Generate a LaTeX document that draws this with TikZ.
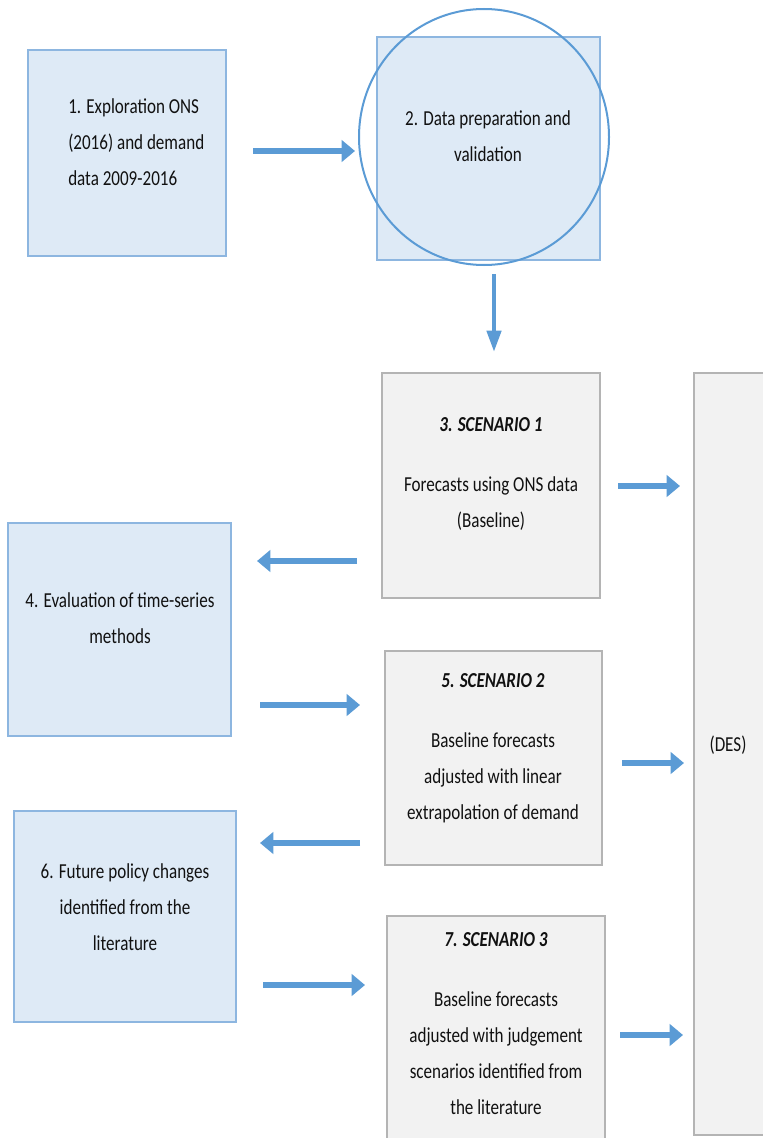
\documentclass[tikz,border=0pt]{standalone}
\usepackage{fontspec}
\setmainfont[FakeStretch=0.8]{Carlito}
\usetikzlibrary{arrows.meta,calc,fit}
\definecolor{boxblue}{HTML}{DEEAF6}
\definecolor{edgeblue}{HTML}{8DB6E0}
\definecolor{arrowblue}{HTML}{5B9BD5}
\definecolor{boxgray}{HTML}{F2F2F2}
\definecolor{edgegray}{HTML}{B4B4B4}
\definecolor{txt}{HTML}{111111}
\begin{document}
\begin{tikzpicture}[x=0.75pt,y=-0.75pt,
  bluebox/.style={draw=edgeblue,fill=boxblue,line width=1.1pt,inner sep=0pt,outer sep=0pt},
  graybox/.style={draw=edgegray,fill=boxgray,line width=1.1pt,inner sep=0pt,outer sep=0pt},
  label/.style={font=\fontsize{16}{27}\selectfont,text=txt,inner sep=0pt,align=center},
  arr/.style={draw=arrowblue,line width=5pt,-{Triangle[length=10pt,width=16pt]}},
  darr/.style={draw=arrowblue,line width=3.3pt,-{Triangle[length=16pt,width=10.5pt]}}]
\useasboundingbox (0,0) rectangle (763,1138);

% process boxes
\node[bluebox,fit={(28,50) (226,256)}] (b1) {};
\node[bluebox,fit={(377,37) (600,260)}] (b2) {};
\node[graybox,fit={(382,373) (600,598)}] (b3) {};
\node[bluebox,fit={(8,523) (231,736)}] (b4) {};
\node[graybox,fit={(385,651) (602,865)}] (b5) {};
\node[bluebox,fit={(14,811) (236,1022)}] (b6) {};
\node[graybox,fit={(387,916) (605,1150)}] (b7) {};
\node[graybox,fit={(694,373) (800,1135)}] (des) {};

% highlight ring around step 2
\draw[arrowblue,line width=1.5pt] (484,137) ellipse [x radius=125, y radius=128];

% box texts
\node[label,align=left,anchor=west] (t1) at (68,142) {1. Exploration ONS\\(2016) and demand\\data 2009-2016};
\node[label] (t2) at (488,136) {2. Data preparation and\\validation};
\node[label] (t3) at (491,474) {\textbf{\textit{3. SCENARIO 1}}\\[18pt]Forecasts using ONS data\\(Baseline)};
\node[label] (t4) at (120,618) {4. Evaluation of time-series\\methods};
\node[label] (t5) at (493,748) {\textbf{\textit{5. SCENARIO 2}}\\[18pt]Baseline forecasts\\adjusted with linear\\extrapolation of demand};
\node[label] (t6) at (125,907) {6. Future policy changes\\identified from the\\literature};
\node[label] (t7) at (496,1024) {\textbf{\textit{7. SCENARIO 3}}\\[18pt]Baseline forecasts\\adjusted with judgement\\scenarios identified from\\the literature};
\node[label] (tdes) at (728,745) {(DES)};

% connectors
\draw[arr] ($(b1.east)+(27,-2)$) -- ($(b2.west)+(-22,2.5)$);
\draw[darr] ($(b2.south)+(5.5,14)$) -- ($(b3.north)+(3,-21)$);
\draw[arr] ($(b3.east)+(18,0.5)$) -- ($(des.north west)+(-14,113)$);
\draw[arr] ($(b3.south west)+(-25,-37)$) -- ($(b4.north east)+(26,38)$);
\draw[arr] ($(b4.south east)+(29,-31)$) -- ($(b5.north west)+(-25,54)$);
\draw[arr] ($(b5.east)+(20,5)$) -- ($(des.west)+(-10,9)$);
\draw[arr] ($(b5.south west)+(-25,-22)$) -- ($(b6.north east)+(24,32)$);
\draw[arr] ($(b6.south east)+(27,-37)$) -- ($(b7.north west)+(-22,69)$);
\draw[arr] ($(b7.north east)+(15,119)$) -- ($(des.south west)+(-11,-100)$);
\end{tikzpicture}
\end{document}
